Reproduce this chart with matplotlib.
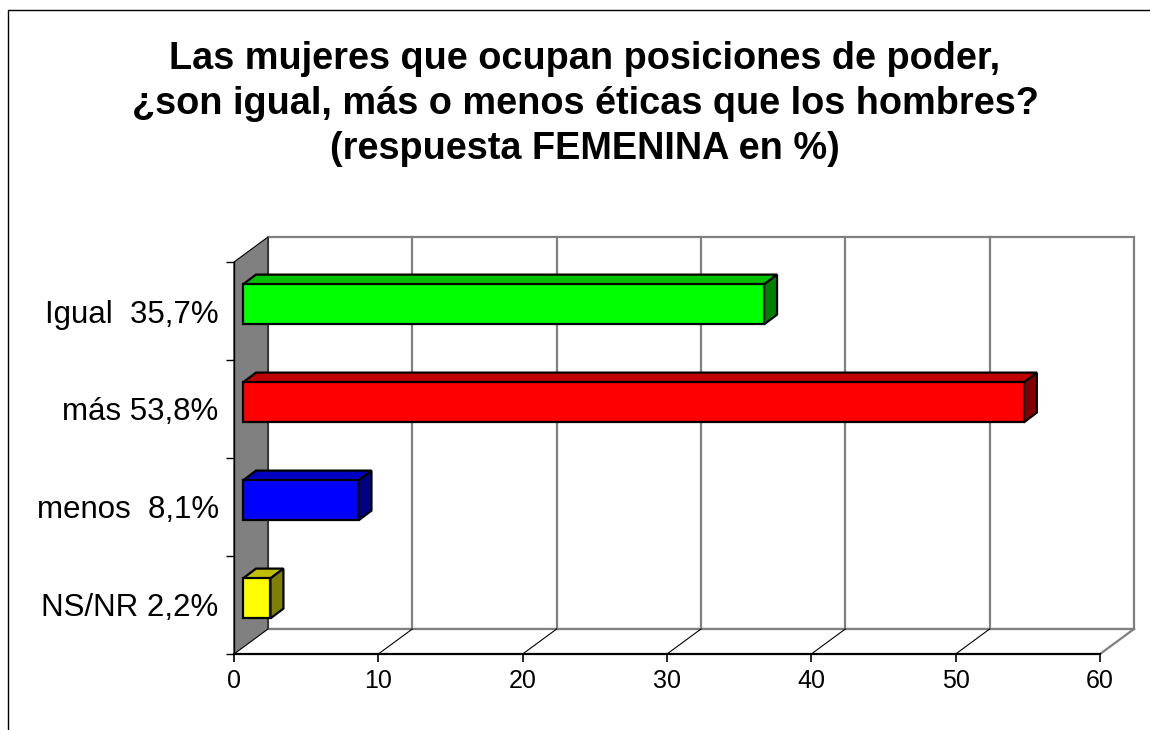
import matplotlib
matplotlib.use("Agg")
import matplotlib.pyplot as plt
from matplotlib.patches import Polygon, Rectangle
from matplotlib.lines import Line2D

plt.rcParams['font.family'] = ['Liberation Sans', 'DejaVu Sans']

# ---- data ----
title_lines = ["Las mujeres que ocupan posiciones de poder,",
               "¿son igual, más o menos éticas que los hombres?",
               "(respuesta FEMENINA en %)"]
categories = ["Igual  35,7%", "más 53,8%", "menos  8,1%", "NS/NR 2,2%"]
values = [36.1, 54.1, 8.0, 1.9]
x_ticks = [0, 10, 20, 30, 40, 50, 60]
face_colors = ["#00FF00", "#FF0000", "#0000FF", "#FFFF00"]
top_colors = ["#00C000", "#C00000", "#0000C0", "#C0C000"]
side_colors = ["#008000", "#800000", "#000080", "#808000"]

W, H = 1150, 730
fig = plt.figure(figsize=(W / 100, H / 100), dpi=100)
fig.patch.set_facecolor("white")

# axes = front plane of the 3-D box
L, R, B, T = 234, 1100, 654, 262
ax = fig.add_axes([L / W, (H - B) / H, (R - L) / W, (B - T) / H])
ncat = len(categories)
xmax = x_ticks[-1]
ax.set_xlim(0, xmax)
ax.set_ylim(0, ncat)
ax.patch.set_alpha(0)

# pixel -> data conversion
px_x = xmax / (R - L)
px_y = ncat / (B - T)

# depth offsets (pixels)
wall_dx, wall_dy = 34 * px_x, 25 * px_y
bar_fx, bar_fy = 9 * px_x, 6.6 * px_y
bar_dx, bar_dy = 13 * px_x, 9.8 * px_y
bar_h = 40 * px_y

gray = "#808080"

# back wall
ax.add_patch(Rectangle((wall_dx, wall_dy), xmax, ncat, facecolor="white",
                       edgecolor=gray, lw=1.6, zorder=1, clip_on=False))
# gridlines on back wall
for xt in x_ticks[1:-1]:
    ax.add_line(Line2D([xt + wall_dx, xt + wall_dx], [wall_dy, ncat + wall_dy],
                       color=gray, lw=1.6, zorder=1.5, clip_on=False))
# floor
ax.add_patch(Polygon([(0, 0), (xmax, 0), (xmax + wall_dx, wall_dy), (wall_dx, wall_dy)],
                     closed=True, facecolor="white", edgecolor="none", zorder=1.2,
                     clip_on=False))
ax.add_line(Line2D([wall_dx, xmax + wall_dx], [wall_dy, wall_dy], color=gray, lw=1.6,
                   zorder=1.6, clip_on=False))
for xt in x_ticks[1:-1]:
    ax.add_line(Line2D([xt, xt + wall_dx], [0, wall_dy], color="black", lw=0.8,
                       zorder=1.6, clip_on=False))
ax.add_line(Line2D([xmax, xmax + wall_dx], [0, wall_dy], color=gray, lw=1.6,
                   zorder=1.6, clip_on=False))
# side wall
ax.add_patch(Polygon([(0, 0), (wall_dx, wall_dy), (wall_dx, ncat + wall_dy), (0, ncat)],
                     closed=True, facecolor=gray, edgecolor="black", lw=0.8, zorder=2,
                     clip_on=False))

# bars
for i, (v, fc, tc, sc) in enumerate(zip(values, face_colors, top_colors, side_colors)):
    yc = ncat - 0.5 - i
    x0, x1 = bar_fx, v + bar_fx
    y0, y1 = yc - bar_h / 2 + bar_fy, yc + bar_h / 2 + bar_fy
    kw = dict(closed=True, edgecolor="black", lw=1.6, zorder=3, clip_on=False,
              joinstyle="miter")
    ax.add_patch(Polygon([(x0, y1), (x1, y1), (x1 + bar_dx, y1 + bar_dy),
                          (x0 + bar_dx, y1 + bar_dy)], facecolor=tc, **kw))
    ax.add_patch(Polygon([(x1, y0), (x1 + bar_dx, y0 + bar_dy),
                          (x1 + bar_dx, y1 + bar_dy), (x1, y1)], facecolor=sc, **kw))
    ax.add_patch(Polygon([(x0, y0), (x1, y0), (x1, y1), (x0, y1)], facecolor=fc, **kw))

# axes/spines/ticks
for s in ["top", "right"]:
    ax.spines[s].set_visible(False)
ax.spines["left"].set_color("black")
ax.spines["left"].set_linewidth(1.0)
ax.spines["bottom"].set_color("black")
ax.spines["bottom"].set_linewidth(1.6)
ax.spines["left"].set_zorder(4)
ax.spines["bottom"].set_zorder(4)

ax.set_xticks(x_ticks)
ax.set_xticklabels([str(t) for t in x_ticks], fontsize=18)
ax.tick_params(axis="x", direction="out", length=6, width=1.2, pad=5, colors="black")

centers = [ncat - 0.5 - i for i in range(ncat)]
ax.set_yticks(centers)
ax.set_yticklabels(categories, fontsize=22.5)
ax.set_yticks(list(range(ncat + 1)), minor=True)
ax.tick_params(axis="y", which="major", length=0, pad=11)
ax.tick_params(axis="y", which="minor", length=6, width=1.0, direction="out")

# title
baselines = [69, 114, 159]
for line, yb in zip(title_lines, baselines):
    fig.text(585 / W, 1 - yb / H, line, ha="center", va="baseline",
             fontsize=27.3, fontweight="bold", color="black")

# outer border (top and left edges)
fig.add_artist(Line2D([8 / W, 8 / W, 1.0], [0.0, 1 - 9.5 / H, 1 - 9.5 / H],
                      transform=fig.transFigure, color="black", lw=1.0))

fig.savefig("out.png", dpi=100, facecolor="white")
